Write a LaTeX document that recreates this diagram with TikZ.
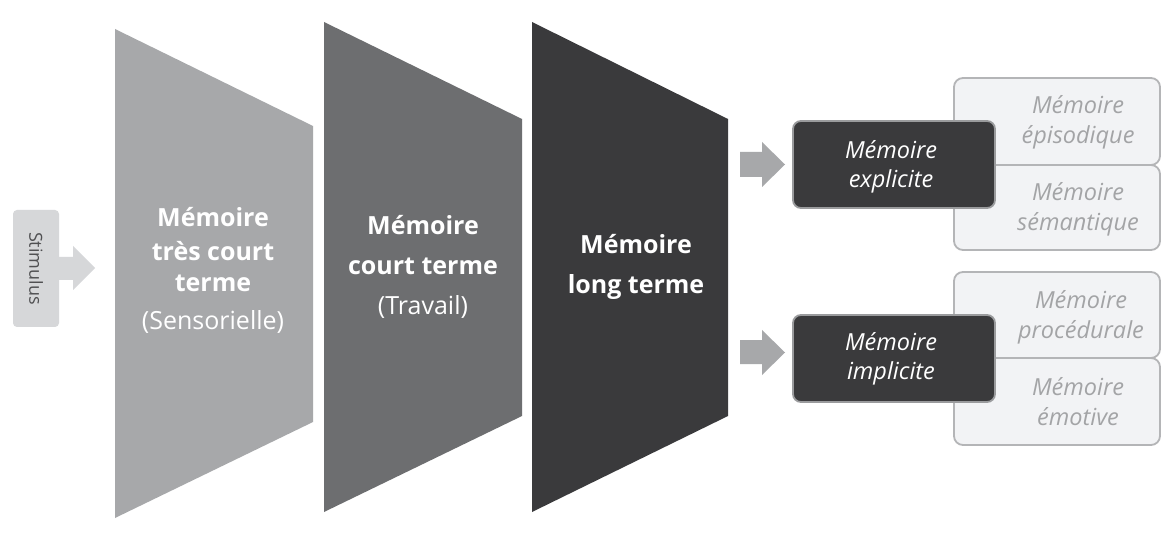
\documentclass[tikz,border=0pt]{standalone}
\usepackage{fontspec}
\setmainfont{Open Sans}
\definecolor{tA}{HTML}{A7A8AA}
\definecolor{tB}{HTML}{6D6E70}
\definecolor{tC}{HTML}{3A3A3C}
\definecolor{stim}{HTML}{D6D7D9}
\definecolor{stimtxt}{HTML}{505052}
\definecolor{lightfill}{HTML}{F2F3F5}
\definecolor{lightdraw}{HTML}{B4B5B7}
\definecolor{lighttxt}{HTML}{A3A4A6}
\definecolor{darkdraw}{HTML}{9A9B9D}
\begin{document}
\begin{tikzpicture}[x=1pt,y=-1pt,
  traptext/.style={text=white,align=center,font=\fontsize{25}{34}\selectfont},
  traptextwide/.style={text=white,align=center,font=\fontsize{25}{40}\selectfont},
  lightbox/.style={draw=lightdraw,fill=lightfill,line width=1.8pt,rounded corners=9pt},
  darkbox/.style={draw=darkdraw,fill=tC,line width=1.8pt,rounded corners=8pt},
  lighttext/.style={text=lighttxt,align=center,font=\fontsize{23.5}{30}\selectfont\itshape},
  darktext/.style={text=white,align=center,font=\fontsize{23.5}{29}\selectfont\itshape},
  blockarrow/.style={fill=tA}
]
\useasboundingbox (0,0) rectangle (1170,537);
\fill[white] (0,0) rectangle (1170,537);
% stimulus
\fill[stim] (58,257) -- (73,257) -- (73,246) -- (95,268) -- (73,290) -- (73,280) -- (58,280) -- cycle;
\node[fill=stim,rounded corners=4pt,minimum width=117pt,minimum height=46pt,rotate=-90,
  text=stimtxt,font=\fontsize{18}{20}\selectfont,inner sep=0pt] (stim) at (36,268.5) {Stimulus};
% trapezoids
\fill[tA] (115,29) -- (313,126) -- (313,422) -- (115,518) -- cycle;
\fill[tB] (324,22) -- (522,119) -- (522,416) -- (324,512) -- cycle;
\fill[tC] (532,22) -- (728,119) -- (728,416) -- (532,512) -- cycle;
\node[traptext] (t1) at (213,270) {\textbf{Mémoire}\\\textbf{très court}\\[-3pt]\textbf{terme}\\[4pt](Sensorielle)};
\node[traptextwide] (t2) at (423,267) {\textbf{Mémoire}\\\textbf{court terme}\\(Travail)};
\node[traptextwide] (t3) at (636,267) {\textbf{Mémoire}\\\textbf{long terme}};
% light boxes
\path[lightbox] (954,78) rectangle (1160,165);
\path[lightbox] (954,165) rectangle (1160,250);
\path[lightbox] (954,272) rectangle (1160,358);
\path[lightbox] (954,358) rectangle (1160,445);
\node[lighttext] (epi) at (1078,122) {Mémoire\\épisodique};
\node[lighttext] (sem) at (1078,209) {Mémoire\\sémantique};
\node[lighttext] (pro) at (1081,317.5) {Mémoire\\procédurale};
\node[lighttext] (emo) at (1078,402) {Mémoire\\émotive};
% dark boxes
\path[darkbox] (793,121) rectangle (995,208);
\path[darkbox] (793,315) rectangle (995,402);
\node[darktext] (expl) at (891,166.5) {Mémoire\\explicite};
\node[darktext] (impl) at (891,359) {Mémoire\\implicite};
% arrows
\fill[blockarrow] (740,152) -- (762,152) -- (762,142) -- (785,164.5) -- (762,187) -- (762,177) -- (740,177) -- cycle;
\fill[blockarrow] (740,340) -- (762,340) -- (762,330) -- (785,352.5) -- (762,375) -- (762,364) -- (740,364) -- cycle;
\end{tikzpicture}
\end{document}
